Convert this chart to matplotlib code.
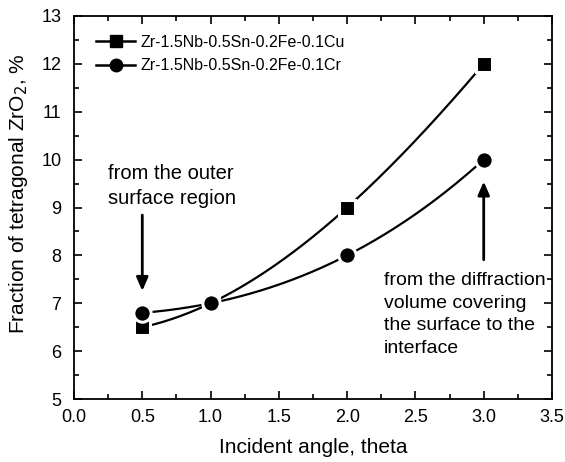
import numpy as np
import matplotlib
matplotlib.use("Agg")
import matplotlib.pyplot as plt
from matplotlib.lines import Line2D
from matplotlib.ticker import MultipleLocator, FormatStrFormatter

plt.rcParams['font.family'] = ['Liberation Sans', 'DejaVu Sans']

angle = [0.5, 1.0, 2.0, 3.0]
cu = [6.5, 7.0, 9.0, 12.0]
cr = [6.8, 7.0, 8.0, 10.0]
label_cu = "Zr-1.5Nb-0.5Sn-0.2Fe-0.1Cu"
label_cr = "Zr-1.5Nb-0.5Sn-0.2Fe-0.1Cr"

fig = plt.figure(figsize=(5.65, 4.62), dpi=100)
ax = fig.add_axes([74/565, 1-399/462, (552-74)/565, (399-16)/462])

xs = np.linspace(min(angle), max(angle), 200)
for ys, mk in ((cu, 's'), (cr, 'o')):
    coef = np.polyfit(angle, ys, 3)
    ax.plot(xs, np.polyval(coef, xs), color='black', lw=1.6, zorder=2)
    ax.plot(angle, ys, linestyle='none', marker=mk, markersize=12.5 if mk == 'o' else 11.5,
            markerfacecolor='black', markeredgecolor='white', markeredgewidth=2.2, zorder=3)

ax.set_xlim(0, 3.5)
ax.set_ylim(5, 13)
ax.xaxis.set_major_locator(MultipleLocator(0.5))
ax.xaxis.set_minor_locator(MultipleLocator(0.25))
ax.yaxis.set_major_locator(MultipleLocator(1))
ax.yaxis.set_minor_locator(MultipleLocator(0.5))
ax.xaxis.set_major_formatter(FormatStrFormatter('%.1f'))
ax.tick_params(which='both', direction='in', top=True, right=True, width=1.2, labelsize=13)
ax.tick_params(axis='x', which='major', pad=7)
ax.tick_params(axis='y', which='major', pad=9)
ax.tick_params(which='major', length=6)
ax.tick_params(which='minor', length=3.5)
for s in ax.spines.values():
    s.set_linewidth(1.3)

ax.set_xlabel("Incident angle, theta", fontsize=15, labelpad=9)
ax.set_ylabel("Fraction of tetragonal ZrO$_2$, %", fontsize=15)
ax.yaxis.set_label_coords(-0.092, 0.537)

handles = [Line2D([], [], color='black', lw=1.8, marker='s', markersize=8.5),
           Line2D([], [], color='black', lw=1.8, marker='o', markersize=9)]
ax.legend(handles, [label_cu, label_cr], loc='upper left', bbox_to_anchor=(0.02, 0.985),
          frameon=False, fontsize=11.5, handlelength=2.4, handletextpad=0.35, labelspacing=0.55,
          borderpad=0.3)

ax.annotate("", xy=(0.5, 7.2), xytext=(0.5, 8.9),
            arrowprops=dict(arrowstyle='-|>,head_length=0.8,head_width=0.35', color='black', lw=2))
ax.text(0.25, 9.0, "from the outer\nsurface region", fontsize=14.5, ha='left', va='bottom',
        linespacing=1.38)

ax.annotate("", xy=(3.0, 9.6), xytext=(3.0, 7.85),
            arrowprops=dict(arrowstyle='-|>,head_length=0.8,head_width=0.35', color='black', lw=2))
ax.text(2.27, 7.66, "from the diffraction\nvolume covering\nthe surface to the\ninterface",
        fontsize=14, ha='left', va='top', linespacing=1.45)

fig.savefig("out.png", dpi=100)
